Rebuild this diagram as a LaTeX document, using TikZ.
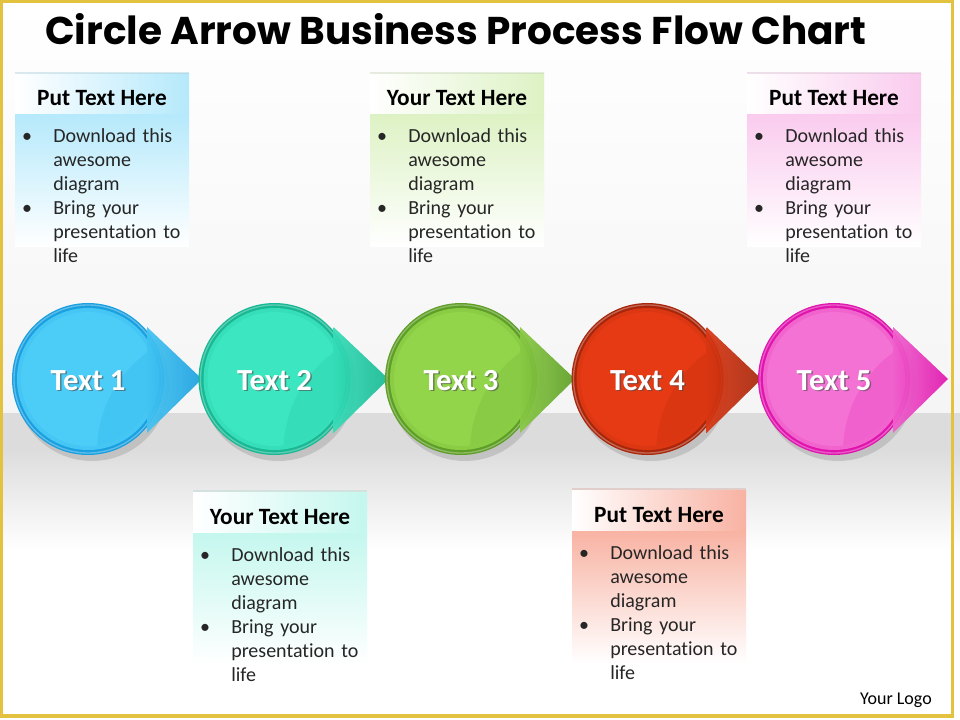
\documentclass[tikz,border=0pt]{standalone}
\usepackage{fontspec}
\usepackage{graphicx}
\setmainfont{Carlito}[Ligatures=NoCommon]
\newfontfamily\titlefont{Poppins}
\usetikzlibrary{positioning,calc}
\definecolor{framegold}{HTML}{E2C23E}
\definecolor{bandgray}{HTML}{DCDCDC}
\definecolor{textdark}{HTML}{262626}
% circle colours
\definecolor{cyanMain}{HTML}{4CCDF7}
\definecolor{cyanDark}{HTML}{1AA0E0}
\definecolor{tealMain}{HTML}{3BE6C0}
\definecolor{tealDark}{HTML}{17B893}
\definecolor{greenMain}{HTML}{92D54A}
\definecolor{greenDark}{HTML}{5E9E26}
\definecolor{redMain}{HTML}{E53A14}
\definecolor{redDark}{HTML}{A8260A}
\definecolor{pinkMain}{HTML}{F472D4}
\definecolor{pinkDark}{HTML}{E015AE}
% box tints
\definecolor{boxBlue}{HTML}{B5E9FB}
\definecolor{boxAqua}{HTML}{C4F7EE}
\definecolor{boxGreen}{HTML}{DDF2C4}
\definecolor{boxRed}{HTML}{F8B2A2}
\definecolor{boxPink}{HTML}{FACBEE}

\begin{document}
\begin{tikzpicture}[
    x=0.75pt, y=-0.75pt,
    every node/.style={inner sep=0pt},
    charttitle/.style={anchor=base west},
    steplabel/.style={font=\fontsize{23}{26}\selectfont\bfseries, text=white, anchor=base},
    labelshadow/.style={font=\fontsize{23}{26}\selectfont\bfseries, text=black!70, anchor=base, opacity=.6},
    boxhead/.style={font=\fontsize{17.5}{20}\selectfont\bfseries, text=black, anchor=base},
    boxtext/.style={font=\fontsize{15}{18}\selectfont, text=textdark, align=left,
      text width=110pt, anchor=base west},
    bulletdot/.style={font=\fontsize{15}{18}\selectfont, text=textdark, anchor=base},
  ]

  % --- Background ---
  \useasboundingbox (0,0) rectangle (960,720);
  \shade[top color=white, bottom color=black!4] (0,0) rectangle (960,413);
  \fill[bandgray] (0,413) rectangle (960,448);
  \shade[top color=bandgray, bottom color=white] (0,448) rectangle (960,550);
  \fill[white] (0,550) rectangle (960,720);

  % --- Title ---
  \node[charttitle] (title) at (45,45)
    {\resizebox{615.75pt}{23.25pt}{\titlefont\bfseries Circle Arrow Business Process Flow Chart}};

  % --- Text boxes ---
  \foreach \L/\T/\tint/\head [count=\k] in {
      15/72/boxBlue/Put Text Here,
      193/490/boxAqua/Your Text Here,
      370/72/boxGreen/Your Text Here,
      572/488/boxRed/Put Text Here,
      747/72/boxPink/Put Text Here}{
    \shade[top color=\tint, bottom color=white] (\L,\T+42) rectangle (\L+174,\T+175);
    \shade[left color=white, middle color=white, right color=\tint] (\L,\T+2) rectangle (\L+174,\T+42);
    \fill[\tint!70!gray, opacity=.4] (\L,\T) rectangle (\L+174,\T+2);
    \node[boxhead] (head\k) at (\L+87,\T+34) {\head};
    \node[boxtext] (itemA\k) at (\L+38,\T+71) {Download this\\awesome\\diagram};
    \node[boxtext] (itemB\k) at (\L+38,\T+143) {Bring your\\presentation to\\life};
    \node[bulletdot] at (\L+12,\T+71) {\textbullet};
    \node[bulletdot] at (\L+12,\T+143) {\textbullet};
  }

  % --- Circle arrows ---
  \foreach \cx/\main/\dark [count=\n] in {
      88/cyanMain/cyanDark,
      274.5/tealMain/tealDark,
      461/greenMain/greenDark,
      647.5/redMain/redDark,
      834/pinkMain/pinkDark}{
    \fill[black, opacity=.12] (\cx+4,384) circle (77);
    \fill[\dark] (\cx,379) circle (76);
    \fill[\main!85!\dark] (\cx,379) circle (71);
    \fill[\main] (\cx,379) circle (67);
    \begin{scope}
      \clip (\cx,379) circle (67);
      \fill[\main!82!\dark] (\cx+133,452) circle (124);
    \end{scope}
    \draw[white, opacity=.3, line width=1pt] (\cx,379) circle (74);
    \shade[left color=\main!80!\dark, right color=\dark, opacity=.92]
      (\cx+59,327) -- (\cx+114,379) -- (\cx+59,433) -- cycle;
    \node[labelshadow] at (\cx+1.5,391.5) {Text \n};
    \node[steplabel] (step\n) at (\cx,390) {Text \n};
  }

  % --- Logo and frame ---
  \node[font=\fontsize{13.5}{16}\selectfont, anchor=base] (logo) at (896,704) {Your Logo};
  \draw[framegold, line width=2.6pt] (1.7,1.7) rectangle (952.5,716);
\end{tikzpicture}
\end{document}
